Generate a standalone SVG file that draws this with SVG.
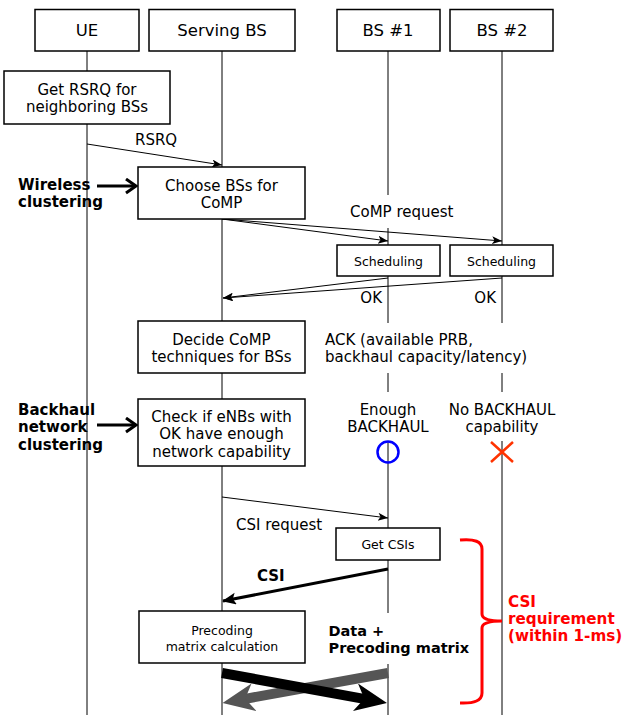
<svg xmlns="http://www.w3.org/2000/svg" width="623" height="715" viewBox="0 0 623 715">
<style>
text{font-family:"DejaVu Sans","Verdana",sans-serif;fill:#000}
.h{font-size:16.5px;text-anchor:middle}
.n{font-size:15px}
.c{text-anchor:middle}
.s{font-size:12.5px;text-anchor:middle}
.b{font-size:15px;font-weight:bold}
.d{font-size:14.5px;font-weight:bold}
.r{font-size:15.2px;font-weight:bold;fill:#ff0000}
.box{fill:#fff;stroke:#000;stroke-width:1.5}
.life{stroke:#000;stroke-width:1;fill:none}
.msg{stroke:#000;stroke-width:1;fill:none;marker-end:url(#ah)}
</style>
<defs>
<marker id="ah" markerUnits="userSpaceOnUse" markerWidth="12" markerHeight="10" refX="10" refY="4" orient="auto">
<path d="M0,0 L10,4 L0,8 L2.5,4 Z" fill="#000"/>
</marker>
<marker id="ahb" markerUnits="userSpaceOnUse" markerWidth="16" markerHeight="14" refX="13" refY="6" orient="auto">
<path d="M0,0 L14,6 L0,12 L3,6 Z" fill="#000"/>
</marker>
<marker id="chev" markerUnits="userSpaceOnUse" markerWidth="14" markerHeight="18" refX="11" refY="8" orient="auto">
<path d="M1,1 L11,8 L1,15" fill="none" stroke="#000" stroke-width="3"/>
</marker>
<marker id="thkK" markerUnits="userSpaceOnUse" markerWidth="34" markerHeight="30" refX="17" refY="14" orient="auto">
<path d="M0,0 L32,14 L0,28 L9,14 Z" fill="#000"/>
</marker>
<marker id="thkG" markerUnits="userSpaceOnUse" markerWidth="34" markerHeight="30" refX="17" refY="14" orient="auto">
<path d="M0,0 L32,14 L0,28 L9,14 Z" fill="#555"/>
</marker>
</defs>

<g id="lifelines">
<line class="life" x1="87" y1="51" x2="87" y2="71"/>
<line class="life" x1="87" y1="124" x2="87" y2="715"/>
<line class="life" x1="222" y1="51" x2="222" y2="715"/>
<line class="life" x1="388" y1="51" x2="388" y2="195"/>
<line class="life" x1="388" y1="228" x2="388" y2="245"/>
<line class="life" x1="388" y1="276" x2="388" y2="323"/>
<line class="life" x1="388" y1="373" x2="388" y2="392"/>
<line class="life" x1="388" y1="441" x2="388" y2="528"/>
<line class="life" x1="388" y1="560" x2="388" y2="613"/>
<line class="life" x1="388" y1="664" x2="388" y2="715"/>
<line class="life" x1="502" y1="51" x2="502" y2="245"/>
<line class="life" x1="502" y1="276" x2="502" y2="323"/>
<line class="life" x1="502" y1="373" x2="502" y2="392"/>
<line class="life" x1="502" y1="441" x2="502" y2="715"/>
</g>

<g id="connectors">
<line class="msg" x1="87" y1="144" x2="222" y2="165"/>
<line stroke="#000" stroke-width="3" x1="97" y1="186" x2="136" y2="186" marker-end="url(#chev)"/>
<line stroke="#000" stroke-width="3" x1="97" y1="425" x2="136" y2="425" marker-end="url(#chev)"/>
<line class="msg" x1="222" y1="219" x2="388" y2="241"/>
<line class="msg" x1="222" y1="219" x2="502" y2="241"/>
<line class="msg" x1="388" y1="278" x2="223" y2="298"/>
<line class="msg" x1="502" y1="278" x2="223" y2="298"/>
<line class="msg" x1="222" y1="497" x2="388" y2="518"/>
<line stroke="#000" stroke-width="3" x1="388" y1="569" x2="223" y2="601" marker-end="url(#ahb)"/>
<line stroke="#555" stroke-width="10" x1="388" y1="673" x2="237.3" y2="700.3" marker-end="url(#thkG)"/>
<line stroke="#000" stroke-width="10" x1="222" y1="673" x2="372.2" y2="700.3" marker-end="url(#thkK)"/>
</g>

<g id="ue"><rect class="box" x="35" y="9.5" width="104" height="41.5"/><text class="h" x="87" y="36">UE</text></g>
<g id="serving-bs"><rect class="box" x="149" y="9.5" width="146" height="41.5"/><text class="h" x="222" y="36">Serving BS</text></g>
<g id="bs1"><rect class="box" x="337" y="9.5" width="103" height="41.5"/><text class="h" x="388" y="36">BS #1</text></g>
<g id="bs2"><rect class="box" x="450" y="9.5" width="103" height="41.5"/><text class="h" x="502" y="36">BS #2</text></g>

<g id="get-rsrq"><rect class="box" x="4" y="71" width="166" height="53"/>
<text class="n c" x="87" y="95">Get RSRQ for</text><text class="n c" x="87" y="112">neighboring BSs</text></g>
<g id="choose"><rect class="box" x="138" y="167" width="167" height="52"/>
<text class="n c" x="221.5" y="191">Choose BSs for</text><text class="n c" x="221.5" y="208">CoMP</text></g>
<g id="sched1"><rect class="box" x="337" y="245" width="103" height="31"/><text class="s" x="388.5" y="266">Scheduling</text></g>
<g id="sched2"><rect class="box" x="450" y="245" width="103" height="31"/><text class="s" x="501.5" y="266">Scheduling</text></g>
<g id="decide"><rect class="box" x="138" y="321" width="167" height="52"/>
<text class="n c" x="221.5" y="345">Decide CoMP</text><text class="n c" x="221.5" y="362">techniques for BSs</text></g>
<g id="check"><rect class="box" x="138" y="399" width="167" height="67"/>
<text class="n c" x="221.5" y="421.5">Check if eNBs with</text><text class="n c" x="221.5" y="439">OK have enough</text><text class="n c" x="221.5" y="456.5">network capability</text></g>
<g id="get-csis"><rect class="box" x="336" y="528" width="104" height="32"/><text class="s" x="388" y="549">Get CSIs</text></g>
<g id="precoding"><rect class="box" x="139" y="611" width="166" height="52"/>
<text class="s" x="222" y="635">Precoding</text><text class="s" x="222" y="650.5">matrix calculation</text></g>

<g id="labels">
<text class="n" x="135" y="145">RSRQ</text>
<text class="b" x="18" y="190">Wireless</text>
<text class="b" x="18" y="207">clustering</text>
<text class="n" x="350" y="217">CoMP request</text>
<text class="n" x="382" y="303" text-anchor="end">OK</text>
<text class="n" x="496" y="303" text-anchor="end">OK</text>
<text class="n" x="325" y="345">ACK (available PRB,</text>
<text class="n" x="325" y="362">backhaul capacity/latency)</text>
<text class="b" x="18" y="415">Backhaul</text>
<text class="b" x="18" y="432">network</text>
<text class="b" x="18" y="449.5">clustering</text>
<text class="n c" x="388" y="414.5">Enough</text>
<text class="n c" x="388" y="432">BACKHAUL</text>
<text class="n c" x="502" y="414.5">No BACKHAUL</text>
<text class="n c" x="502" y="432">capability</text>
<text class="n" x="236" y="529.5">CSI request</text>
<text class="b" x="257" y="581">CSI</text>
<text class="d" x="328.5" y="636">Data +</text>
<text class="d" x="328.5" y="653">Precoding matrix</text>
<text class="r" x="508" y="607">CSI</text>
<text class="r" x="508" y="624">requirement</text>
<text class="r" x="508" y="641">(within 1-ms)</text>
</g>

<g id="status">
<ellipse cx="388" cy="452" rx="10.5" ry="10.5" fill="none" stroke="#0000ff" stroke-width="2.5"/>
<path d="M491,442 L513,462 M513,442 L491,462" stroke="#ff3300" stroke-width="2.5" fill="none"/>
</g>

<g id="bracket">
<path d="M460,540 Q482,538 482,549 L482,614 Q482,621 502,621 Q482,621 482,628 L482,693 Q482,704 460,703" fill="none" stroke="#ff0000" stroke-width="3"/>
</g>
</svg>
